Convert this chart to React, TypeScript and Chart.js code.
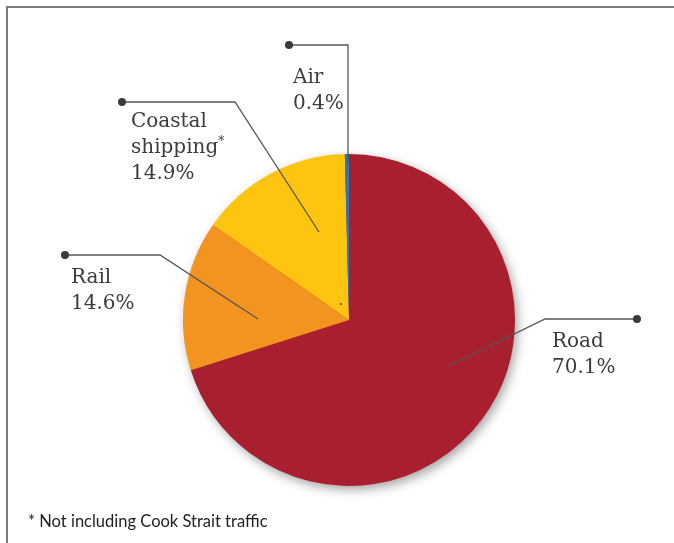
import React, { useEffect, useRef } from "react";
import { Chart, registerables } from "chart.js";

Chart.register(...registerables);

const categories = ["Road", "Rail", "Coastal shipping", "Air"];
const shares = [70.1, 14.6, 14.9, 0.4];
const colors = ["#A8202F", "#F39320", "#FDC510", "#2B78B6"];
const footnote = "* Not including Cook Strait traffic";

// annotation layout relative to pie centre (px)
const annotations = [
  { lines: ["Road", "70.1%"], dot: [288, -1], elbow: [196, -1], end: [100, 46], text: [203, 27] },
  { lines: ["Rail", "14.6%"], dot: [-284, -65], elbow: [-189, -65], end: [-91, -1], text: [-278, -37] },
  { lines: ["Coastal", "shipping*", "14.9%"], dot: [-227, -218], elbow: [-114, -218], end: [-30, -88], text: [-218, -193] },
  { lines: ["Air", "0.4%"], dot: [-60, -275], elbow: [-1, -275], end: [-1, -158], text: [-56, -237] },
];

const shadowPlugin = {
  id: "pieShadow",
  beforeDatasetsDraw(chart: any) {
    const meta = chart.getDatasetMeta(0);
    const arc = meta.data[0];
    if (!arc) return;
    const ctx = chart.ctx;
    ctx.save();
    ctx.shadowColor = "rgba(0,0,0,0.4)";
    ctx.shadowBlur = 12;
    ctx.shadowOffsetX = 3;
    ctx.shadowOffsetY = 4;
    ctx.fillStyle = "#A8202F";
    ctx.beginPath();
    ctx.arc(arc.x, arc.y, arc.outerRadius - 1, 0, Math.PI * 2);
    ctx.fill();
    ctx.restore();
  },
};

const annotationPlugin = {
  id: "annotations",
  afterDraw(chart: any) {
    const meta = chart.getDatasetMeta(0);
    const arc = meta.data[0];
    if (!arc) return;
    const cx = arc.x;
    const cy = arc.y;
    const ctx = chart.ctx;
    ctx.save();
    // frame
    ctx.strokeStyle = "#7a7a7a";
    ctx.lineWidth = 2;
    ctx.beginPath();
    ctx.moveTo(7, chart.height);
    ctx.lineTo(7, 7);
    ctx.lineTo(chart.width, 7);
    ctx.stroke();

    for (const a of annotations) {
      ctx.strokeStyle = "#555555";
      ctx.lineWidth = 1.3;
      ctx.beginPath();
      ctx.moveTo(cx + a.dot[0], cy + a.dot[1]);
      ctx.lineTo(cx + a.elbow[0], cy + a.elbow[1]);
      ctx.lineTo(cx + a.end[0], cy + a.end[1]);
      ctx.stroke();
      ctx.fillStyle = "#3a3a3a";
      ctx.beginPath();
      ctx.arc(cx + a.dot[0], cy + a.dot[1], 4, 0, Math.PI * 2);
      ctx.fill();

      ctx.fillStyle = "#3c3c3c";
      ctx.textBaseline = "alphabetic";
      ctx.textAlign = "left";
      a.lines.forEach((line, i) => {
        const x = cx + a.text[0];
        const y = cy + a.text[1] + i * 26;
        if (line.endsWith("*")) {
          const base = line.slice(0, -1);
          ctx.font = "20px 'DejaVu Serif'";
          ctx.fillText(base, x, y);
          const w = ctx.measureText(base).width;
          ctx.font = "12px 'DejaVu Serif'";
          ctx.fillText("*", x + w, y - 8);
        } else {
          ctx.font = "20px 'DejaVu Serif'";
          ctx.fillText(line, x, y);
        }
      });
    }
    // tiny mark
    ctx.fillStyle = "#444";
    ctx.beginPath();
    ctx.arc(cx - 8, cy - 16, 1, 0, Math.PI * 2);
    ctx.fill();

    ctx.fillStyle = "#1e1e1e";
    ctx.font = "16.5px Lato";
    ctx.fillText(footnote, 28, 527);
    ctx.restore();
  },
};

export default function App() {
  const ref = useRef<HTMLCanvasElement>(null);
  useEffect(() => {
    document.body.style.margin = "0";
    if (!ref.current) return;
    const chart = new Chart(ref.current, {
      type: "pie",
      data: {
        labels: categories,
        datasets: [
          {
            data: shares,
            backgroundColor: colors,
            borderWidth: 0,
          },
        ],
      },
      options: {
        animation: false,
        responsive: false,
        devicePixelRatio: 1,
        layout: { padding: { left: 183, right: 159, top: 154, bottom: 57 } },
        plugins: {
          legend: { display: false },
          tooltip: { enabled: false },
        },
      },
      plugins: [shadowPlugin, annotationPlugin],
    });
    return () => chart.destroy();
  }, []);
  return (
    <div style={{ width: 674, height: 543, background: "#fff" }}>
      <canvas ref={ref} width={674} height={543} />
    </div>
  );
}
